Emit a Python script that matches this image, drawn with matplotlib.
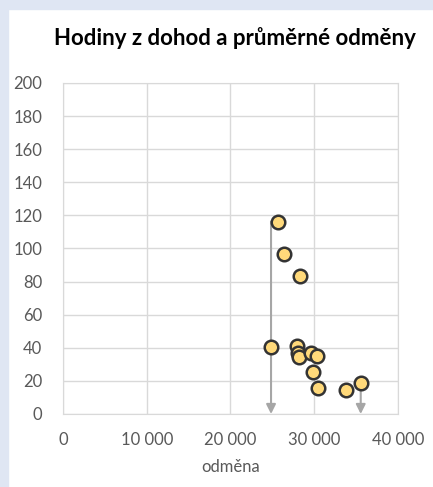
import matplotlib.pyplot as plt
import matplotlib.patches as patches

# body data (odmena, hodiny)
odmena = [25640, 26390, 28260, 24840, 27900, 28000, 28120, 29610, 30330, 29850, 30490, 33790, 35550]
hodiny = [116.2, 96.5, 83.5, 40.7, 41.0, 36.9, 34.4, 37.0, 35.0, 25.4, 15.9, 14.3, 18.5]

# vertical arrows down to the axis
arrow_x = [24840, 35550]
arrow_top = [116.2, 18.5]

x_ticks = [0, 10000, 20000, 30000, 40000]
y_ticks = list(range(0, 201, 20))

plt.rcParams['font.family'] = ['Lato', 'DejaVu Sans']

fig = plt.figure(figsize=(4.33, 4.87), dpi=100, facecolor='white')

# light blue frame on the left and top
fig.patches.append(patches.Rectangle((0, 0), 8 / 433, 1, transform=fig.transFigure,
                                     color='#dfe6f3', zorder=0))
fig.patches.append(patches.Rectangle((0, 1 - 9 / 487), 1, 9 / 487, transform=fig.transFigure,
                                     color='#dfe6f3', zorder=0))

ax = fig.add_axes([63 / 433, 73 / 487, 335 / 433, 331 / 487])
ax.set_xlim(0, 40000)
ax.set_ylim(0, 200)
ax.set_xticks(x_ticks)
ax.set_yticks(y_ticks)
ax.set_xticklabels([f"{v:,}".replace(",", " ") for v in x_ticks])
ax.grid(True, color='#d9d9d9', linewidth=1)
ax.set_axisbelow(True)
for s in ax.spines.values():
    s.set_color('#d9d9d9')
ax.tick_params(length=0, labelsize=12, colors='#595959')
ax.tick_params(axis='y', pad=15)
ax.tick_params(axis='x', pad=13)

for xa, ya in zip(arrow_x, arrow_top):
    ax.annotate('', xy=(xa, 0), xytext=(xa, ya),
                arrowprops=dict(arrowstyle='-|>', color='#a6a6a6', lw=1.5,
                                mutation_scale=14, shrinkA=0, shrinkB=0),
                zorder=2)

ax.scatter(odmena, hodiny, s=95, color='#ffd97a', edgecolors='#333333',
           linewidths=1.8, zorder=3)

ax.set_xlabel('odměna', fontsize=12, color='#595959', labelpad=8)
fig.text(235 / 433, 1 - 38 / 487, 'Hodiny z dohod a průměrné odměny', ha='center', va='center',
         fontsize=16, fontweight='bold', color='black')

fig.savefig('out.png', dpi=100)
